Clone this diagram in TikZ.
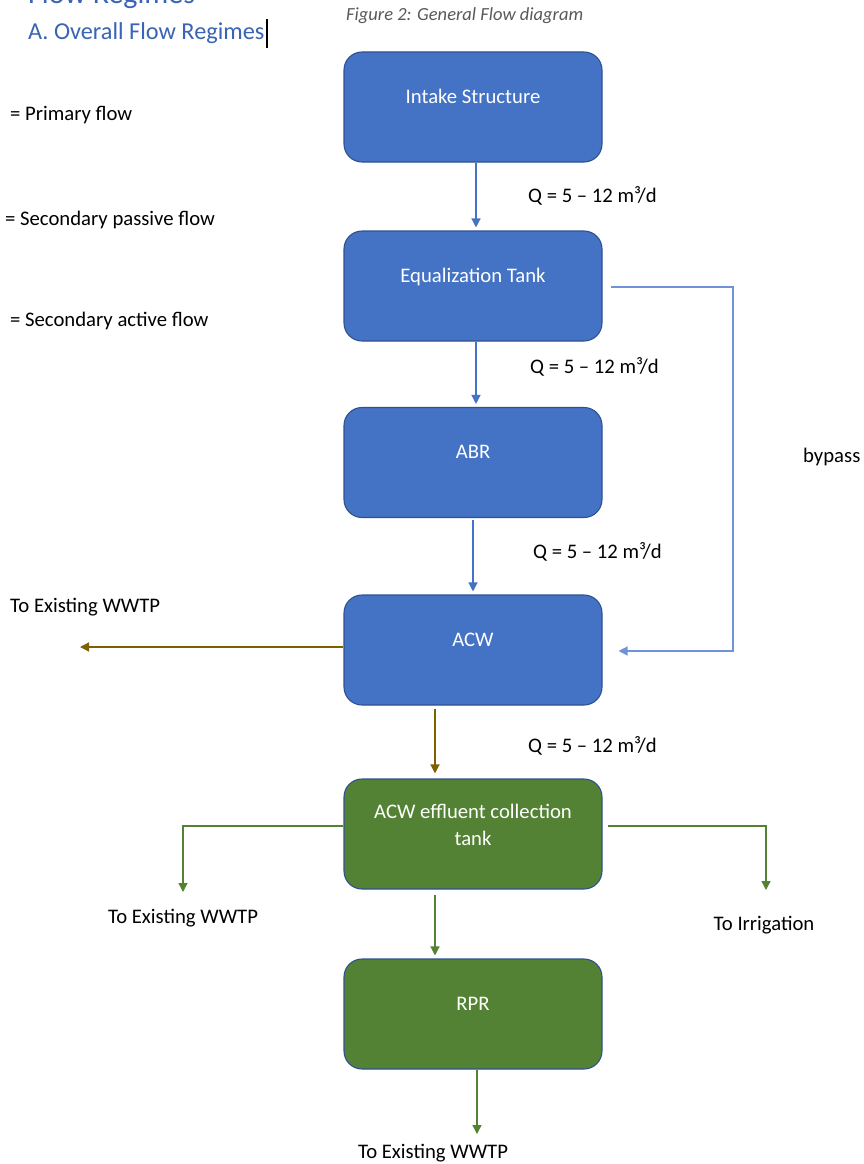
\documentclass[tikz,border=0pt]{standalone}
\usepackage{fontspec}
\setmainfont{Carlito}
\usetikzlibrary{arrows.meta}
\definecolor{boxblue}{HTML}{4472C4}
\definecolor{boxedge}{HTML}{2F528F}
\definecolor{boxgreen}{HTML}{548235}
\definecolor{brownline}{HTML}{7F6000}
\definecolor{greenline}{HTML}{548235}
\definecolor{bypassblue}{HTML}{6E93D8}
\definecolor{headblue}{HTML}{3A64B4}
\definecolor{capgrey}{HTML}{595959}
\newcommand\boxtxt[1]{\raisebox{4pt}[0pt][0pt]{#1}}
\begin{document}
\begin{tikzpicture}[x=1pt,y=-1pt,
  box/.style={draw=boxedge, line width=1.1pt, rounded corners=18pt,
    minimum width=258pt, minimum height=110pt, inner sep=0pt,
    text=white, font=\fontsize{20.7}{27}\selectfont, align=center},
  bluebox/.style={box, fill=boxblue},
  greenbox/.style={box, fill=boxgreen},
  lbl/.style={font=\fontsize{20.7}{25}\selectfont, text=black, inner sep=0pt},
  tip/.style={-{Triangle[length=9pt,width=9pt]}},
  blueflow/.style={tip, draw=boxblue, line width=1.3pt},
  bypassflow/.style={tip, draw=bypassblue, line width=1.3pt},
  brownflow/.style={tip, draw=brownline, line width=1.3pt},
  greenflow/.style={tip, draw=greenline, line width=1.3pt}]
\useasboundingbox (0,0) rectangle (864,1164);
\clip (0,0) rectangle (864,1164);
\fill[white] (0,0) rectangle (864,1164);

% headings
\node[anchor=base west, inner sep=0pt, text=headblue, font=\fontsize{30}{36}\selectfont] (h1) at (28,4) {Flow Regimes};
\node[anchor=base west, inner sep=0pt, text=headblue, font=\fontsize{24.3}{29}\selectfont] (h2) at (28,40) {A. Overall Flow Regimes};
\coordinate (cur1) at (267,19);
\coordinate (cur2) at (267,48);
\draw[line width=1.2pt, black] (cur1) -- (cur2);
\node[anchor=base west, inner sep=0pt, text=capgrey, font=\fontsize{18.5}{22}\itshape] (cap) at (346,21) {Figure 2: General Flow diagram};

% legend
\node[lbl, anchor=west] (leg1) at (10,115) {= Primary flow};
\node[lbl, anchor=west] (leg2) at (5,220) {= Secondary passive flow};
\node[lbl, anchor=west] (leg3) at (10,321) {= Secondary active flow};

% boxes
\node[bluebox] (intake) at (473,107) {\boxtxt{Intake Structure}};
\node[bluebox] (eq) at (473,286) {\boxtxt{Equalization Tank}};
\node[bluebox] (abr) at (473,462.5) {\boxtxt{ABR}};
\node[bluebox] (acw) at (473,650) {\boxtxt{ACW}};
\node[greenbox] (eff) at (473,834) {\raisebox{2pt}[0pt][0pt]{\begin{tabular}{@{}c@{}}ACW effluent collection\\[-0.5pt]tank\end{tabular}}};
\node[greenbox] (rpr) at (473,1014) {\boxtxt{RPR}};

% end points
\coordinate (wwtpA) at (80,647);
\coordinate (bypR1) at (733,287);
\coordinate (bypR2) at (733,651);
\coordinate (effL) at (183,826);
\coordinate (effLend) at (183,892);
\coordinate (effR) at (766,826);
\coordinate (effRend) at (766,890);
\coordinate (rprEnd) at (477,1134);

% flows
\draw[blueflow] (intake.south -| 476,0) -- ([yshift=3pt]eq.north -| 476,0);
\draw[blueflow] (eq.south -| 476,0) -- ([yshift=3pt]abr.north -| 476,0);
\draw[blueflow] ([yshift=-2pt]abr.south -| 473,0) -- ([yshift=3pt]acw.north -| 473,0);
\draw[brownflow] ([yshift=-3pt]acw.south -| 435,0) -- ([yshift=5pt]eff.north -| 435,0);
\draw[bypassflow] ([xshift=8pt]eq.east |- bypR1) -- (bypR1) -- (bypR2) -- ([xshift=16pt]acw.east |- bypR2);
\draw[brownflow] (acw.west |- wwtpA) -- (wwtpA);
\draw[greenflow] (eff.west |- effL) -- (effL) -- (effLend);
\draw[greenflow] ([xshift=5pt]eff.east |- effR) -- (effR) -- (effRend);
\draw[greenflow] ([yshift=-5pt]eff.south -| 435,0) -- ([yshift=3pt]rpr.north -| 435,0);
\draw[greenflow] (rpr.south -| rprEnd) -- (rprEnd);

% labels
\node[lbl, anchor=west] (q1) at (528,196) {Q = 5 – 12 m³/d};
\node[lbl, anchor=west] (q2) at (530,367) {Q = 5 – 12 m³/d};
\node[lbl, anchor=west] (q3) at (533,552) {Q = 5 – 12 m³/d};
\node[lbl, anchor=west] (q4) at (528,746) {Q = 5 – 12 m³/d};
\node[lbl, anchor=west] (byp) at (803,457) {bypass};
\node[lbl, anchor=west] (t1) at (10,607) {To Existing WWTP};
\node[lbl] (t2) at (183,918) {To Existing WWTP};
\node[lbl] (t3) at (764,925) {To Irrigation};
\node[lbl] (t4) at (433,1153) {To Existing WWTP};
\end{tikzpicture}
\end{document}
